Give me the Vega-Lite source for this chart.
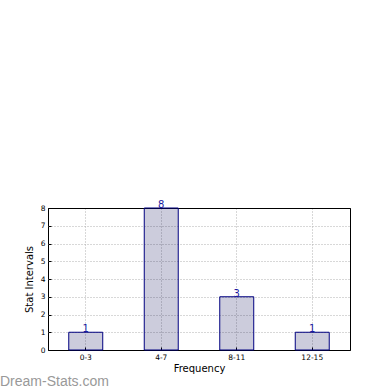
{
  "$schema": "https://vega.github.io/schema/vega-lite/v6.json",
  "autosize": {"type": "none"},
  "width": 302,
  "height": 142,
  "padding": {"left": 48, "top": 208, "right": 40, "bottom": 40},
  "background": "white",
  "title": {
    "text": "Dream-Stats.com",
    "orient": "bottom",
    "anchor": "start",
    "frame": "group",
    "dx": -48,
    "offset": 1,
    "fontSize": 14,
    "fontWeight": "normal",
    "color": "#999999",
    "font": "Liberation Sans"
  },
  "config": {
    "view": {"stroke": "black", "strokeWidth": 1},
    "axis": {
      "labelFont": "DejaVu Sans",
      "titleFont": "DejaVu Sans",
      "labelFontSize": 7.5,
      "titleFontSize": 10,
      "titleFontWeight": "normal",
      "labelColor": "black",
      "titleColor": "black",
      "domain": false,
      "tickColor": "black",
      "grid": true,
      "gridColor": {"condition": {"test": "datum.value === 8 || datum.value === 0", "value": "black"}, "value": "#b0b0b0"},
      "gridDash": {"condition": {"test": "datum.value === 8 || datum.value === 0", "value": []}, "value": [1, 2]},
      "gridWidth": 1
    }
  },
  "data": {
    "values": [
      {"interval": "0-3", "count": 1},
      {"interval": "4-7", "count": 8},
      {"interval": "8-11", "count": 3},
      {"interval": "12-15", "count": 1}
    ]
  },
  "encoding": {
    "x": {
      "field": "interval",
      "type": "nominal",
      "sort": null,
      "scale": {"paddingInner": 0.55, "paddingOuter": 0.275},
      "axis": {"title": "Frequency", "labelAngle": 0, "tickSize": -3, "labelPadding": 6, "titlePadding": 3, "bandPosition": 0.5}
    },
    "y": {
      "field": "count",
      "type": "quantitative",
      "scale": {"domain": [0, 8], "nice": false},
      "axis": {"title": "Stat Intervals", "values": [0,1,2,3,4,5,6,7,8], "labelOverlap": false, "tickSize": -3, "labelPadding": 6, "titlePadding": 6}
    }
  },
  "layer": [
    {
      "mark": {"type": "bar", "fill": "#000050", "fillOpacity": 0.2, "stroke": "#000080", "strokeWidth": 1}
    },
    {
      "mark": {"type": "text", "baseline": "alphabetic", "dy": 0, "fontSize": 10, "font": "DejaVu Sans", "color": "#1a1aa0"},
      "encoding": {"text": {"field": "count", "type": "quantitative"}}
    }
  ]
}
